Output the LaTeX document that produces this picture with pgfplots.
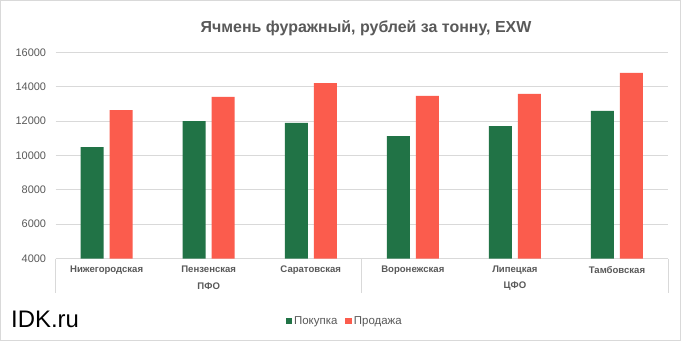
\documentclass[border=0pt]{standalone}
\usepackage{pgfplots}
\pgfplotsset{compat=1.18}
\usepackage{fontspec}
\setmainfont{Liberation Sans}
\definecolor{gbar}{RGB}{33,115,70}
\definecolor{rbar}{RGB}{251,92,77}
\definecolor{txt}{RGB}{89,89,89}
\definecolor{grd}{RGB}{217,217,217}
\begin{document}
\begin{tikzpicture}[x=1bp,y=1bp]
\useasboundingbox (0,0) rectangle (681,341);
\fill[white] (0,0) rectangle (681,341);
\draw[grd, line width=1bp] (0.5,0.5) rectangle (680.5,340.5);
\node[font=\fontsize{16}{19}\selectfont\bfseries, text=txt] at (366,313) {Ячмень фуражный, рублей за тонну, EXW};
\node[anchor=base west, font=\fontsize{24}{28}\selectfont, text=black, inner sep=0pt] at (11,13.7) {IDK.ru};
\begin{axis}[
  at={(55.6bp,82.4bp)}, anchor=south west, scale only axis,
  width=612.4bp, height=206.3bp,
  xmin=-0.5, xmax=5.5, ymin=4000, ymax=16000,
  scaled y ticks=false,
  ytick={4000,6000,...,16000},
  yticklabels={4000,6000,8000,10000,12000,14000,16000},
  xtick={0,...,5},
  xticklabels={Нижегородская,Пензенская,Саратовская,Воронежская,Липецкая,Тамбовская},
  axis line style={draw=none}, major tick length=0pt,
  ymajorgrids, grid style={grd, line width=1bp},
  yticklabel style={font=\fontsize{11}{13}\selectfont, text=txt, xshift=-6bp},
  xticklabel style={font=\fontsize{9.6}{11}\selectfont\bfseries, text=txt, yshift=-4bp},
  clip=false,
  legend columns=2,
  legend style={at={(0.472,-0.302)}, anchor=center, draw=none, fill=none,
    font=\fontsize{11.5}{13}\selectfont, text=txt,
    /tikz/every even column/.append style={column sep=6bp}},
  legend image code/.code={\fill[#1] (0bp,-3.3bp) rectangle (6.5bp,3.3bp);},
]
\addplot[ybar, bar width=23bp, bar shift=-14.5bp, fill=gbar, draw=none]
  coordinates {(0,10490) (1,12000) (2,11890) (3,11130) (4,11710) (5,12590)};
\addlegendentry{Покупка}
\addplot[ybar, bar width=23bp, bar shift=14.5bp, fill=rbar, draw=none]
  coordinates {(0,12640) (1,13400) (2,14210) (3,13460) (4,13575) (5,14800)};
\addlegendentry{Продажа}
\draw[grd, line width=1bp] (axis cs:-0.5,4000) -- ([yshift=-34.5bp]axis cs:-0.5,4000);
\draw[grd, line width=1bp] (axis cs:2.5,4000) -- ([yshift=-34.5bp]axis cs:2.5,4000);
\draw[grd, line width=1bp] (axis cs:5.5,4000) -- ([yshift=-34.5bp]axis cs:5.5,4000);
\node[font=\fontsize{9.6}{11}\selectfont\bfseries, text=txt] at (axis cs:1,4000) [yshift=-28bp] {ПФО};
\node[font=\fontsize{9.6}{11}\selectfont\bfseries, text=txt] at (axis cs:4,4000) [yshift=-28bp] {ЦФО};
\end{axis}
\end{tikzpicture}
\end{document}
